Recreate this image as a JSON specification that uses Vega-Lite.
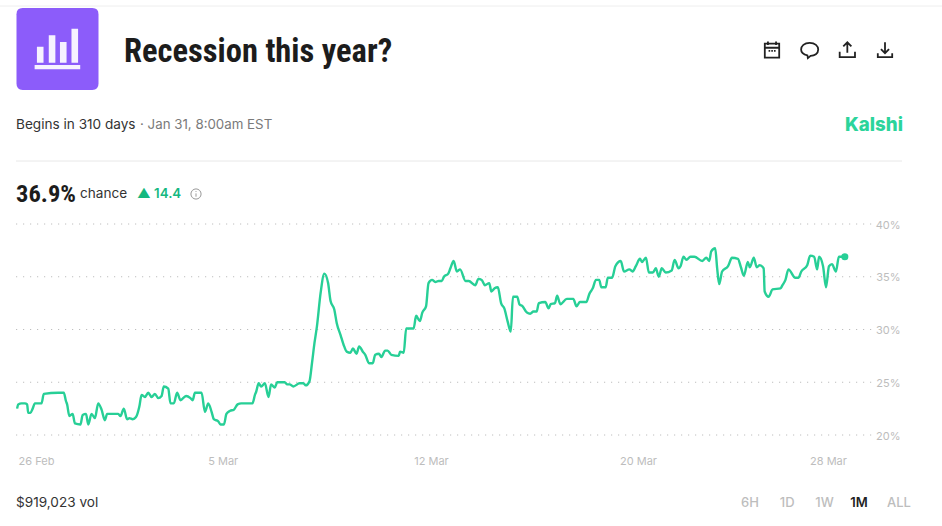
{"$schema":"https://vega.github.io/schema/vega-lite/v6.json","width":856,"height":211,"autosize":"none","padding":{"left":16,"top":224,"right":70,"bottom":91},"background":"white","config":{"view":{"stroke":null}},
"datasets":{"series":[
{"t":"2025-02-25T07:00","p":22.5},{"t":"2025-02-25T08:00","p":22.9},{"t":"2025-02-25T11:00","p":23.0},{"t":"2025-02-25T14:00","p":23.0},{"t":"2025-02-25T16:00","p":22.9},{"t":"2025-02-25T17:00","p":22.1},{"t":"2025-02-25T19:00","p":22.1},{"t":"2025-02-25T21:00","p":22.5},{"t":"2025-02-25T23:00","p":23.0},{"t":"2025-02-26T05:00","p":23.0},{"t":"2025-02-26T07:00","p":23.9},{"t":"2025-02-26T20:00","p":24.0},{"t":"2025-02-27T01:00","p":24.0},{"t":"2025-02-27T03:00","p":23.2},{"t":"2025-02-27T04:00","p":22.9},{"t":"2025-02-27T06:00","p":21.8},{"t":"2025-02-27T09:00","p":22.0},{"t":"2025-02-27T11:00","p":21.1},{"t":"2025-02-27T16:00","p":21.0},{"t":"2025-02-27T18:00","p":21.9},{"t":"2025-02-27T21:00","p":22.0},{"t":"2025-02-27T23:00","p":21.0},{"t":"2025-02-28T02:00","p":22.0},{"t":"2025-02-28T05:00","p":21.6},{"t":"2025-02-28T08:00","p":23.0},{"t":"2025-02-28T11:00","p":22.4},{"t":"2025-02-28T14:00","p":21.4},{"t":"2025-02-28T16:00","p":22.0},{"t":"2025-03-01T02:00","p":22.0},{"t":"2025-03-01T04:00","p":21.8},{"t":"2025-03-01T07:00","p":22.5},{"t":"2025-03-01T10:00","p":21.5},{"t":"2025-03-01T12:00","p":21.6},{"t":"2025-03-01T15:00","p":21.5},{"t":"2025-03-01T18:00","p":21.7},{"t":"2025-03-01T21:00","p":22.7},{"t":"2025-03-01T23:00","p":23.8},{"t":"2025-03-02T02:00","p":23.6},{"t":"2025-03-02T05:00","p":24.0},{"t":"2025-03-02T08:00","p":23.6},{"t":"2025-03-02T11:00","p":23.9},{"t":"2025-03-02T14:00","p":23.5},{"t":"2025-03-02T17:00","p":23.7},{"t":"2025-03-02T19:00","p":24.6},{"t":"2025-03-02T23:00","p":24.4},{"t":"2025-03-03T01:00","p":23.0},{"t":"2025-03-03T04:00","p":23.0},{"t":"2025-03-03T07:00","p":24.0},{"t":"2025-03-03T10:00","p":23.3},{"t":"2025-03-03T15:00","p":23.7},{"t":"2025-03-03T19:00","p":23.5},{"t":"2025-03-03T21:00","p":23.3},{"t":"2025-03-03T23:00","p":24.0},{"t":"2025-03-04T05:00","p":24.0},{"t":"2025-03-04T08:00","p":22.2},{"t":"2025-03-04T11:00","p":23.0},{"t":"2025-03-04T14:00","p":22.2},{"t":"2025-03-04T16:00","p":21.5},{"t":"2025-03-04T20:00","p":21.3},{"t":"2025-03-04T22:00","p":21.0},{"t":"2025-03-05T01:00","p":21.0},{"t":"2025-03-05T03:00","p":22.0},{"t":"2025-03-05T06:00","p":22.3},{"t":"2025-03-05T09:00","p":22.4},{"t":"2025-03-05T12:00","p":22.9},{"t":"2025-03-05T15:00","p":23.0},{"t":"2025-03-06T00:00","p":23.0},{"t":"2025-03-06T02:00","p":23.8},{"t":"2025-03-06T03:00","p":24.1},{"t":"2025-03-06T05:00","p":24.9},{"t":"2025-03-06T07:00","p":24.6},{"t":"2025-03-06T10:00","p":24.9},{"t":"2025-03-06T13:00","p":23.6},{"t":"2025-03-06T15:00","p":24.8},{"t":"2025-03-06T18:00","p":24.5},{"t":"2025-03-06T20:00","p":25.0},{"t":"2025-03-07T02:00","p":25.0},{"t":"2025-03-07T04:00","p":24.8},{"t":"2025-03-07T06:00","p":24.8},{"t":"2025-03-07T09:00","p":24.6},{"t":"2025-03-07T14:00","p":24.9},{"t":"2025-03-07T17:00","p":24.9},{"t":"2025-03-07T19:00","p":24.7},{"t":"2025-03-07T22:00","p":25.1},{"t":"2025-03-08T00:00","p":26.8},{"t":"2025-03-08T02:00","p":28.7},{"t":"2025-03-08T04:00","p":30.3},{"t":"2025-03-08T07:00","p":33.5},{"t":"2025-03-08T10:00","p":35.3},{"t":"2025-03-08T13:00","p":34.4},{"t":"2025-03-08T15:00","p":32.7},{"t":"2025-03-08T18:00","p":31.9},{"t":"2025-03-08T20:00","p":30.6},{"t":"2025-03-08T23:00","p":29.5},{"t":"2025-03-09T02:00","p":28.4},{"t":"2025-03-09T04:00","p":27.9},{"t":"2025-03-09T07:00","p":27.8},{"t":"2025-03-09T09:00","p":28.2},{"t":"2025-03-09T12:00","p":27.7},{"t":"2025-03-09T14:00","p":28.4},{"t":"2025-03-09T17:00","p":27.9},{"t":"2025-03-09T19:00","p":27.6},{"t":"2025-03-09T22:00","p":26.8},{"t":"2025-03-10T01:00","p":26.8},{"t":"2025-03-10T03:00","p":27.6},{"t":"2025-03-10T06:00","p":27.7},{"t":"2025-03-10T08:00","p":27.4},{"t":"2025-03-10T11:00","p":28.0},{"t":"2025-03-10T13:00","p":28.0},{"t":"2025-03-10T16:00","p":27.6},{"t":"2025-03-10T22:00","p":27.5},{"t":"2025-03-10T23:00","p":27.9},{"t":"2025-03-11T02:00","p":27.8},{"t":"2025-03-11T04:00","p":30.1},{"t":"2025-03-11T10:00","p":30.1},{"t":"2025-03-11T12:00","p":31.3},{"t":"2025-03-11T15:00","p":30.8},{"t":"2025-03-11T17:00","p":31.6},{"t":"2025-03-11T20:00","p":32.2},{"t":"2025-03-11T22:00","p":34.4},{"t":"2025-03-12T01:00","p":34.7},{"t":"2025-03-12T04:00","p":34.5},{"t":"2025-03-12T07:00","p":34.6},{"t":"2025-03-12T10:00","p":34.6},{"t":"2025-03-12T12:00","p":35.0},{"t":"2025-03-12T16:00","p":35.3},{"t":"2025-03-12T18:00","p":35.8},{"t":"2025-03-12T21:00","p":36.5},{"t":"2025-03-13T00:00","p":35.5},{"t":"2025-03-13T03:00","p":35.7},{"t":"2025-03-13T08:00","p":34.6},{"t":"2025-03-13T11:00","p":34.6},{"t":"2025-03-13T17:00","p":34.2},{"t":"2025-03-13T20:00","p":34.8},{"t":"2025-03-13T23:00","p":34.7},{"t":"2025-03-14T02:00","p":34.2},{"t":"2025-03-14T06:00","p":34.4},{"t":"2025-03-14T08:00","p":33.6},{"t":"2025-03-14T11:00","p":33.9},{"t":"2025-03-14T14:00","p":34.0},{"t":"2025-03-14T17:00","p":32.5},{"t":"2025-03-14T20:00","p":32.0},{"t":"2025-03-14T23:00","p":30.8},{"t":"2025-03-15T02:00","p":29.8},{"t":"2025-03-15T04:00","p":33.1},{"t":"2025-03-15T08:00","p":33.1},{"t":"2025-03-15T10:00","p":32.4},{"t":"2025-03-15T13:00","p":32.2},{"t":"2025-03-15T17:00","p":31.6},{"t":"2025-03-15T20:00","p":31.5},{"t":"2025-03-15T23:00","p":31.7},{"t":"2025-03-16T02:00","p":31.7},{"t":"2025-03-16T04:00","p":32.5},{"t":"2025-03-16T10:00","p":32.6},{"t":"2025-03-16T13:00","p":32.0},{"t":"2025-03-16T15:00","p":32.4},{"t":"2025-03-16T19:00","p":32.5},{"t":"2025-03-16T21:00","p":33.2},{"t":"2025-03-17T00:00","p":32.4},{"t":"2025-03-17T06:00","p":32.9},{"t":"2025-03-17T12:00","p":32.9},{"t":"2025-03-17T15:00","p":32.2},{"t":"2025-03-17T18:00","p":32.6},{"t":"2025-03-18T00:00","p":32.6},{"t":"2025-03-18T03:00","p":33.4},{"t":"2025-03-18T06:00","p":33.9},{"t":"2025-03-18T09:00","p":34.7},{"t":"2025-03-18T12:00","p":34.7},{"t":"2025-03-18T14:00","p":34.0},{"t":"2025-03-18T18:00","p":34.0},{"t":"2025-03-18T20:00","p":34.9},{"t":"2025-03-19T00:00","p":34.9},{"t":"2025-03-19T03:00","p":36.0},{"t":"2025-03-19T08:00","p":36.5},{"t":"2025-03-19T11:00","p":35.5},{"t":"2025-03-19T16:00","p":35.7},{"t":"2025-03-19T19:00","p":35.5},{"t":"2025-03-19T22:00","p":36.0},{"t":"2025-03-20T02:00","p":36.7},{"t":"2025-03-20T04:00","p":36.4},{"t":"2025-03-20T08:00","p":36.8},{"t":"2025-03-20T11:00","p":35.4},{"t":"2025-03-20T15:00","p":35.4},{"t":"2025-03-20T18:00","p":35.8},{"t":"2025-03-20T21:00","p":35.0},{"t":"2025-03-21T00:00","p":35.8},{"t":"2025-03-21T04:00","p":35.4},{"t":"2025-03-21T10:00","p":35.6},{"t":"2025-03-21T13:00","p":36.6},{"t":"2025-03-21T17:00","p":35.8},{"t":"2025-03-21T19:00","p":36.0},{"t":"2025-03-21T22:00","p":36.9},{"t":"2025-03-22T01:00","p":36.6},{"t":"2025-03-22T05:00","p":36.9},{"t":"2025-03-22T09:00","p":36.9},{"t":"2025-03-22T17:00","p":36.5},{"t":"2025-03-22T21:00","p":36.8},{"t":"2025-03-23T00:00","p":36.5},{"t":"2025-03-23T02:00","p":37.4},{"t":"2025-03-23T06:00","p":37.7},{"t":"2025-03-23T08:00","p":35.8},{"t":"2025-03-23T10:00","p":34.3},{"t":"2025-03-23T13:00","p":35.5},{"t":"2025-03-23T19:00","p":36.0},{"t":"2025-03-23T23:00","p":36.8},{"t":"2025-03-24T05:00","p":36.7},{"t":"2025-03-24T08:00","p":35.9},{"t":"2025-03-24T11:00","p":35.1},{"t":"2025-03-24T15:00","p":36.4},{"t":"2025-03-24T17:00","p":35.9},{"t":"2025-03-24T21:00","p":36.8},{"t":"2025-03-25T00:00","p":35.9},{"t":"2025-03-25T03:00","p":36.1},{"t":"2025-03-25T07:00","p":35.8},{"t":"2025-03-25T08:00","p":33.6},{"t":"2025-03-25T12:00","p":33.1},{"t":"2025-03-25T16:00","p":33.8},{"t":"2025-03-26T00:00","p":33.9},{"t":"2025-03-26T02:00","p":34.2},{"t":"2025-03-26T05:00","p":34.7},{"t":"2025-03-26T08:00","p":35.7},{"t":"2025-03-26T15:00","p":34.9},{"t":"2025-03-26T18:00","p":34.9},{"t":"2025-03-26T21:00","p":35.5},{"t":"2025-03-27T03:00","p":36.1},{"t":"2025-03-27T06:00","p":37.0},{"t":"2025-03-27T10:00","p":36.9},{"t":"2025-03-27T13:00","p":35.7},{"t":"2025-03-27T15:00","p":36.9},{"t":"2025-03-27T19:00","p":36.0},{"t":"2025-03-27T22:00","p":34.0},{"t":"2025-03-28T01:00","p":36.0},{"t":"2025-03-28T04:00","p":36.2},{"t":"2025-03-28T08:00","p":35.5},{"t":"2025-03-28T11:00","p":36.9},{"t":"2025-03-28T17:00","p":36.9}
]},
"resolve":{"scale":{"x":"independent","y":"independent","size":"independent","shape":"independent"},"axis":{"x":"independent","y":"independent"}},
"layer":[
{"data":{"values":[{"p":20},{"p":25},{"p":30},{"p":35},{"p":40}]},"mark":{"type":"rule","color":"#BEBEBE","strokeWidth":1,"strokeDash":[1.2,5.8]},"encoding":{"x":{"datum":0,"type":"quantitative","axis":null,"scale":{"domain":[0,1],"range":[0,857]}},"x2":{"datum":1},"y":{"field":"p","type":"quantitative","axis":null,"scale":{"domain":[20,40],"nice":false,"zero":false}}}},
{"data":{"name":"series"},"mark":{"type":"line","color":"#27CF96","strokeWidth":2.4,"interpolate":"monotone"},
"encoding":{"x":{"field":"t","type":"temporal","scale":{"type":"time","nice":false,"domain":{"expr":"[time(datetime(2025,1,26)),time(datetime(2025,2,5)),time(datetime(2025,2,12)),time(datetime(2025,2,20)),time(datetime(2025,2,28))]"},"range":[20,206.7,415,622,812]},
"axis":{"title":null,"format":"%-d %b","values":[{"year":2025,"month":"feb","date":26},{"year":2025,"month":"mar","date":5},{"year":2025,"month":"mar","date":12},{"year":2025,"month":"mar","date":20},{"year":2025,"month":"mar","date":28}],"domain":false,"ticks":false,"grid":false,"labelFont":"Inter","labelFontSize":11,"labelColor":"#BDBDBD","labelPadding":20,"labelFlush":false}},
"y":{"field":"p","type":"quantitative","scale":{"domain":[20,40],"nice":false,"zero":false},"axis":{"title":null,"orient":"right","values":[20,25,30,35,40],"labelExpr":"datum.value + '%'","domain":false,"ticks":false,"grid":false,"labelFont":"Inter","labelFontSize":11,"labelColor":"#BDBDBD","labelAlign":"right","labelPadding":28,"labelOffset":1}}}},
{"data":{"values":[{"t":"2025-03-28T17:00","p":36.9}]},"mark":{"type":"point","filled":true,"opacity":1,"color":"#27CF96","size":50},
"encoding":{"x":{"field":"t","type":"temporal","axis":null,"scale":{"type":"time","nice":false,"domain":{"expr":"[time(datetime(2025,1,26)),time(datetime(2025,2,5)),time(datetime(2025,2,12)),time(datetime(2025,2,20)),time(datetime(2025,2,28))]"},"range":[20,206.7,415,622,812]}},"y":{"field":"p","type":"quantitative","axis":null,"scale":{"domain":[20,40],"nice":false,"zero":false}}}},
{"data":{"values":[{"line":"top"}]},"mark":{"type":"rule","color":"#EEEEEE","strokeWidth":1},"encoding":{"x":{"datum":0,"type":"quantitative","axis":null,"scale":{"domain":[0,1],"range":[-16,926]}},"x2":{"datum":1},"y":{"field":"line","type":"nominal","axis":null,"scale":{"domain":["top"],"range":[-218,-218]}}}},
{"data":{"values":[{"line":"divider"}]},"mark":{"type":"rule","color":"#E8E8E8","strokeWidth":1},"encoding":{"x":{"datum":0,"type":"quantitative","axis":null,"scale":{"domain":[0,1],"range":[0,886]}},"x2":{"datum":1},"y":{"field":"line","type":"nominal","axis":null,"scale":{"domain":["divider"],"range":[-63,-63]}}}},
{"data":{"values":[{"item":"tile"}]},"mark":{"type":"point","filled":true,"opacity":1,"color":"#8C5CFA","size":6724,"shape":"M-0.85,-1 H0.85 Q1,-1 1,-0.85 V0.85 Q1,1 0.85,1 H-0.85 Q-1,1 -1,0.85 V-0.85 Q-1,-1 -0.85,-1 Z"},
"encoding":{"x":{"field":"item","type":"nominal","axis":null,"scale":{"domain":["tile"],"range":[41.5,41.5]}},"y":{"field":"item","type":"nominal","axis":null,"scale":{"domain":["tile"],"range":[-175,-175]}}}},
{"data":{"values":[{"item":"glyph"}]},"mark":{"type":"point","filled":true,"opacity":0.92,"color":"#FFFFFF","size":6724,"shape":"M-0.502,-0.052 H-0.341 V0.333 H-0.502 Z M-0.213,-0.333 H-0.052 V0.333 H-0.213 Z M0.06,-0.173 H0.221 V0.333 H0.06 Z M0.341,-0.494 H0.502 V0.333 H0.341 Z M-0.558,0.39 H0.554 V0.494 H-0.558 Z"},
"encoding":{"x":{"field":"item","type":"nominal","axis":null,"scale":{"domain":["glyph"],"range":[41.5,41.5]}},"y":{"field":"item","type":"nominal","axis":null,"scale":{"domain":["glyph"],"range":[-175,-175]}}}},
{"data":{"values":[{"icon":"calendar"},{"icon":"comment"},{"icon":"upload"},{"icon":"download"}]},"mark":{"type":"point","filled":false,"opacity":1,"stroke":"#222222","strokeWidth":1.8,"size":324},
"encoding":{"x":{"field":"icon","type":"nominal","axis":null,"sort":null,"scale":{"domain":["calendar","comment","upload","download"],"range":[756,869],"padding":0}},"y":{"field":"icon","type":"nominal","axis":null,"scale":{"domain":["calendar","comment","upload","download"],"range":[-174,-174],"padding":0}},
"shape":{"field":"icon","type":"nominal","legend":null,"scale":{"domain":["calendar","comment","upload","download"],"range":["M-0.8,-0.7 H0.8 V0.85 H-0.8 Z M-0.8,-0.25 H0.8 M-0.45,-0.95 V-0.55 M0.45,-0.95 V-0.55 M-0.38,0.1 H-0.2 M-0.08,0.1 H0.1 M0.22,0.1 H0.4","M0,-0.8 C0.6,-0.8 0.95,-0.45 0.95,-0.05 C0.95,0.4 0.55,0.65 0.1,0.65 L-0.2,0.9 L-0.25,0.6 C-0.7,0.5 -0.95,0.3 -0.95,-0.05 C-0.95,-0.45 -0.6,-0.8 0,-0.8 Z","M0,0.3 V-0.8 M-0.45,-0.4 L0,-0.85 L0.45,-0.4 M-0.85,0.2 V0.8 H0.85 V0.2","M0,-0.85 V0.3 M-0.45,-0.1 L0,0.35 L0.45,-0.1 M-0.8,0.35 V0.8 H0.8 V0.35"]}}}},
{"data":{"values":[{"item":"info"}]},"mark":{"type":"point","filled":false,"opacity":1,"stroke":"#9A9A9A","strokeWidth":1,"size":144,"shape":"M-0.85,0 A0.85,0.85 0 1,1 0.85,0 A0.85,0.85 0 1,1 -0.85,0 Z M0,-0.1 V0.45 M0,-0.5 V-0.35"},
"encoding":{"x":{"field":"item","type":"nominal","axis":null,"scale":{"domain":["info"],"range":[180,180]}},"y":{"field":"item","type":"nominal","axis":null,"scale":{"domain":["info"],"range":[-30,-30]}}}},
{"data":{"values":[{"label":"Recession this year?","slot":0},{"label":"36.9%","slot":1}]},"mark":{"type":"text","font":"Roboto Condensed, DejaVu Sans Condensed, Roboto","fontWeight":"bold","align":"left","baseline":"alphabetic","color":"#1C1C1C"},
"encoding":{"text":{"field":"label"},"x":{"field":"slot","type":"quantitative","axis":null,"scale":{"domain":[0,1],"range":[108,0]}},"y":{"field":"slot","type":"quantitative","axis":null,"scale":{"domain":[0,1],"range":[-162,-22]}},"size":{"field":"slot","type":"quantitative","legend":null,"scale":{"domain":[0,1],"range":[32.5,24.5]}}}},
{"data":{"values":[{"label":"Begins in 310 days","slot":0},{"label":"chance","slot":1},{"label":"$919,023 vol","slot":2}]},"mark":{"type":"text","font":"Inter","fontSize":13.6,"align":"left","baseline":"alphabetic","color":"#333333"},
"encoding":{"text":{"field":"label"},"x":{"field":"slot","type":"quantitative","axis":null,"scale":{"domain":[0,1,2],"range":[0,64,0]}},"y":{"field":"slot","type":"quantitative","axis":null,"scale":{"domain":[0,1,2],"range":[-95,-26,283]}}}},
{"data":{"values":[{"label":"· Jan 31, 8:00am EST"}]},"mark":{"type":"text","font":"Inter","fontSize":13.3,"align":"left","baseline":"alphabetic","color":"#7A7A7A"},
"encoding":{"text":{"field":"label"},"x":{"field":"label","type":"nominal","axis":null,"scale":{"domain":["· Jan 31, 8:00am EST"],"range":[124,124]}},"y":{"field":"label","type":"nominal","axis":null,"scale":{"domain":["· Jan 31, 8:00am EST"],"range":[-95,-95]}}}},
{"data":{"values":[{"label":"Kalshi"}]},"mark":{"type":"text","font":"Inter","fontWeight":800,"fontSize":18.7,"align":"left","baseline":"alphabetic","color":"#2BD49B"},
"encoding":{"text":{"field":"label"},"x":{"field":"label","type":"nominal","axis":null,"scale":{"domain":["Kalshi"],"range":[829,829]}},"y":{"field":"label","type":"nominal","axis":null,"scale":{"domain":["Kalshi"],"range":[-93,-93]}}}},
{"data":{"values":[{"label":"▲ 14.4"}]},"mark":{"type":"text","font":"Inter","fontWeight":600,"fontSize":13.3,"align":"left","baseline":"alphabetic","color":"#14B880"},
"encoding":{"text":{"field":"label"},"x":{"field":"label","type":"nominal","axis":null,"scale":{"domain":["▲ 14.4"],"range":[121,121]}},"y":{"field":"label","type":"nominal","axis":null,"scale":{"domain":["▲ 14.4"],"range":[-26,-26]}}}},
{"data":{"values":[{"label":"6H"},{"label":"1D"},{"label":"1W"},{"label":"ALL"}]},"mark":{"type":"text","font":"Inter","fontWeight":500,"fontSize":13,"align":"center","baseline":"alphabetic","color":"#BDBDBD"},
"encoding":{"text":{"field":"label"},"x":{"field":"label","type":"ordinal","axis":null,"sort":null,"scale":{"type":"point","domain":["6H","1D","1W","1M","ALL"],"range":[734,883],"padding":0}},"y":{"datum":0,"type":"quantitative","axis":null,"scale":{"domain":[0,1],"range":[283,284]}}}},
{"data":{"values":[{"label":"1M"}]},"mark":{"type":"text","font":"Inter","fontWeight":600,"fontSize":13,"align":"center","baseline":"alphabetic","color":"#222222"},
"encoding":{"text":{"field":"label"},"x":{"field":"label","type":"nominal","axis":null,"scale":{"domain":["1M"],"range":[843,843]}},"y":{"field":"label","type":"nominal","axis":null,"scale":{"domain":["1M"],"range":[283,283]}}}}
]}
